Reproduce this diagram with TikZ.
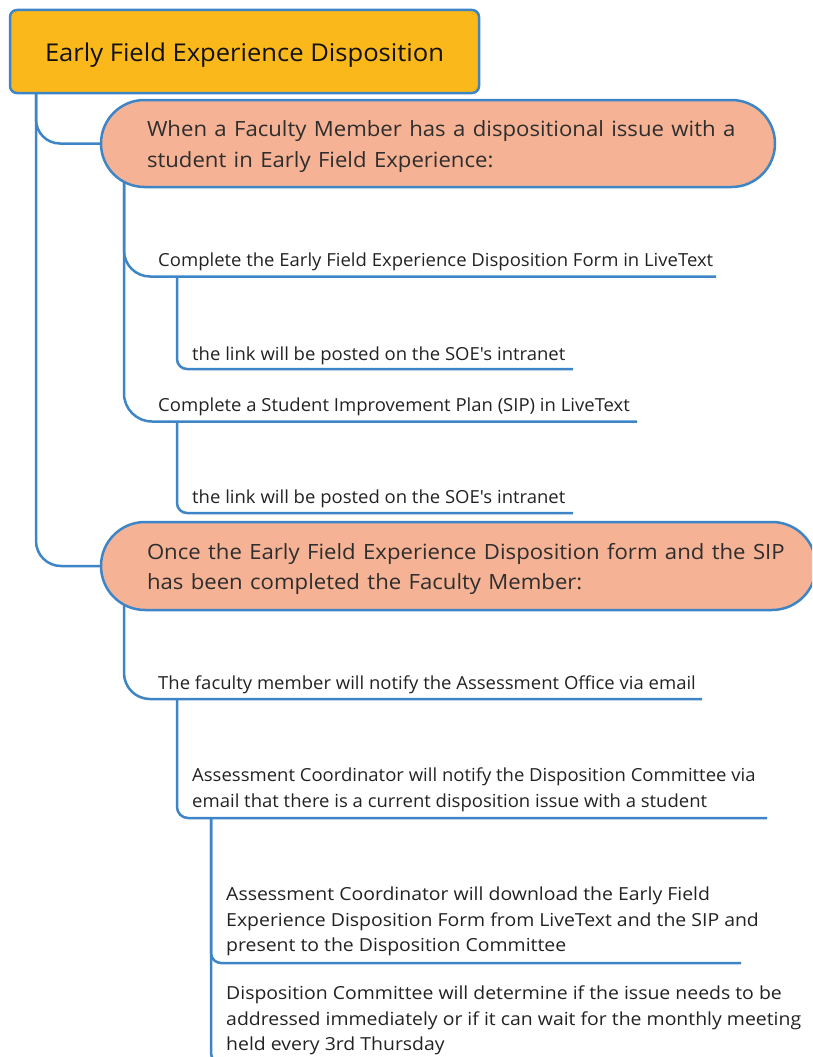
\documentclass[tikz,border=0pt]{standalone}
\usepackage{fontspec}
\usepackage{graphicx}
\usetikzlibrary{backgrounds}
\newfontfamily\osans{Open Sans}
\definecolor{lineblue}{HTML}{3D85C6}
\definecolor{rootfill}{HTML}{FBB81B}
\definecolor{pillfill}{HTML}{F5B294}
\definecolor{txtdark}{HTML}{222222}
\definecolor{txtnode}{HTML}{2E2E2E}
\definecolor{txtroot}{HTML}{111111}
\newcommand\froot{\osans\fontsize{24.5}{30}\selectfont}
\newcommand\fnode{\osans\fontsize{21}{30.5}\selectfont}
\newcommand\fsub{\osans\fontsize{18}{25.6}\selectfont}
\newsavebox\measbox
\newlength\measlen
\newcommand\getratio[3]{\sbox\measbox{#3}\setlength\measlen{\wd\measbox}%
  \pgfmathsetmacro#1{#2/max(\measlen,1pt)}}
\newcommand\sline[2]{\scalebox{#1}[1]{#2}}
\getratio{\rroot}{399}{\froot Early Field Experience Disposition}
\getratio{\rnode}{623}{\fnode Once the Early Field Experience Disposition form and the SIP}
\getratio{\rsub}{555}{\fsub Complete the Early Field Experience Disposition Form in LiveText}
\getratio{\rgg}{575}{\fsub addressed immediately or if it can wait for the monthly meeting}
\begin{document}
\begin{tikzpicture}[x=1pt,y=-1pt,
  conn/.style={draw=lineblue, line width=2.5pt},
  rootbox/.style={draw=lineblue, line width=2.5pt, fill=rootfill, rounded corners=7pt,
    minimum width=469pt, minimum height=83pt, inner sep=0pt, font=\froot, text=txtroot,
    text height=20.4pt, text depth=0pt},
  pill/.style={draw=lineblue, line width=2.5pt, fill=pillfill, inner sep=0pt,
    font=\fnode, text=txtnode, align=left, text height=16.7pt, text depth=30.5pt},
  subtxt/.style={font=\fsub, text=txtdark, align=left, anchor=base west, inner sep=0pt},
]
\useasboundingbox (0,0) rectangle (812,1057);
\clip (0,0) rectangle (812,1057);

% main nodes
\node[rootbox] (root) at (244.5,51.5) {\sline{\rroot}{Early Field Experience Disposition}};
\node[pill, rounded corners=43.5pt, minimum width=674pt, minimum height=87pt, text width=582pt]
  (n1) at (438,143.5)
  {\sline{\rnode}{When a Faculty Member has a dispositional issue with a}\\
   \sline{\rnode}{student in Early Field Experience:}};
\node[pill, rounded corners=44pt, minimum width=715pt, minimum height=88pt, text width=623pt]
  (n2) at (458.5,566)
  {\sline{\rnode}{Once the Early Field Experience Disposition form and the SIP}\\
   \sline{\rnode}{has been completed the Faculty Member:}};

% text items (multi-line nodes are anchored at the baseline of their last line)
\node[subtxt] (c1) at (158,266.7) {\sline{\rsub}{Complete the Early Field Experience Disposition Form in LiveText}};
\node[subtxt] (g1) at (192,360) {\sline{\rsub}{the link will be posted on the SOE's intranet}};
\node[subtxt] (c2) at (158,411.7) {\sline{\rsub}{Complete a Student Improvement Plan (SIP) in LiveText}};
\node[subtxt] (g2) at (192,503) {\sline{\rsub}{the link will be posted on the SOE's intranet}};
\node[subtxt] (c3) at (158,689) {\sline{\rsub}{The faculty member will notify the Assessment Office via email}};
\node[subtxt] (g3) at (192,807)
  {\sline{\rsub}{Assessment Coordinator will notify the Disposition Committee via}\\
   \sline{\rsub}{email that there is a current disposition issue with a student}};
\node[subtxt] (gg1) at (226,951.7)
  {\sline{\rgg}{Assessment Coordinator will download the Early Field}\\
   \sline{\rgg}{Experience Disposition Form from LiveText and the SIP and}\\
   \sline{\rgg}{present to the Disposition Committee}};
\node[subtxt] (gg2) at (226,1050.7)
  {\sline{\rgg}{Disposition Committee will determine if the issue needs to be}\\
   \sline{\rgg}{addressed immediately or if it can wait for the monthly meeting}\\
   \sline{\rgg}{held every 3rd Thursday}};

% fork and end coordinates
\coordinate (rf) at (36,85);
\coordinate (n1f) at (124,175);
\coordinate (n2f) at (124,598);
\coordinate (c1e) at (716,276.5);
\coordinate (g1f) at (177,276.5);
\coordinate (g1e) at (573,369);
\coordinate (c2e) at (637,421.5);
\coordinate (g2f) at (177,421.5);
\coordinate (g2e) at (573,513);
\coordinate (c3e) at (702,699);
\coordinate (g3f) at (177,699);
\coordinate (g3e) at (767,818);
\coordinate (ggf) at (211,818);
\coordinate (gg1e) at (741,963);
\coordinate (gg2e) at (800,1063);

\begin{pgfonlayer}{background}
\draw[conn, rounded corners=25pt] (rf) |- (n2.west);
\draw[conn, rounded corners=24pt] (rf) |- (n1.west);
\draw[conn, rounded corners=26pt] (n1f) |- (c1e);
\draw[conn, rounded corners=28pt] (n1f) |- (c2e);
\draw[conn, rounded corners=10pt] (g1f) |- (g1e);
\draw[conn, rounded corners=10pt] (g2f) |- (g2e);
\draw[conn, rounded corners=26pt] (n2f) |- (c3e);
\draw[conn, rounded corners=11pt] (g3f) |- (g3e);
\draw[conn, rounded corners=10pt] (ggf) |- (gg1e);
\draw[conn, rounded corners=10pt] (ggf) |- (gg2e);
\end{pgfonlayer}
\end{tikzpicture}
\end{document}
